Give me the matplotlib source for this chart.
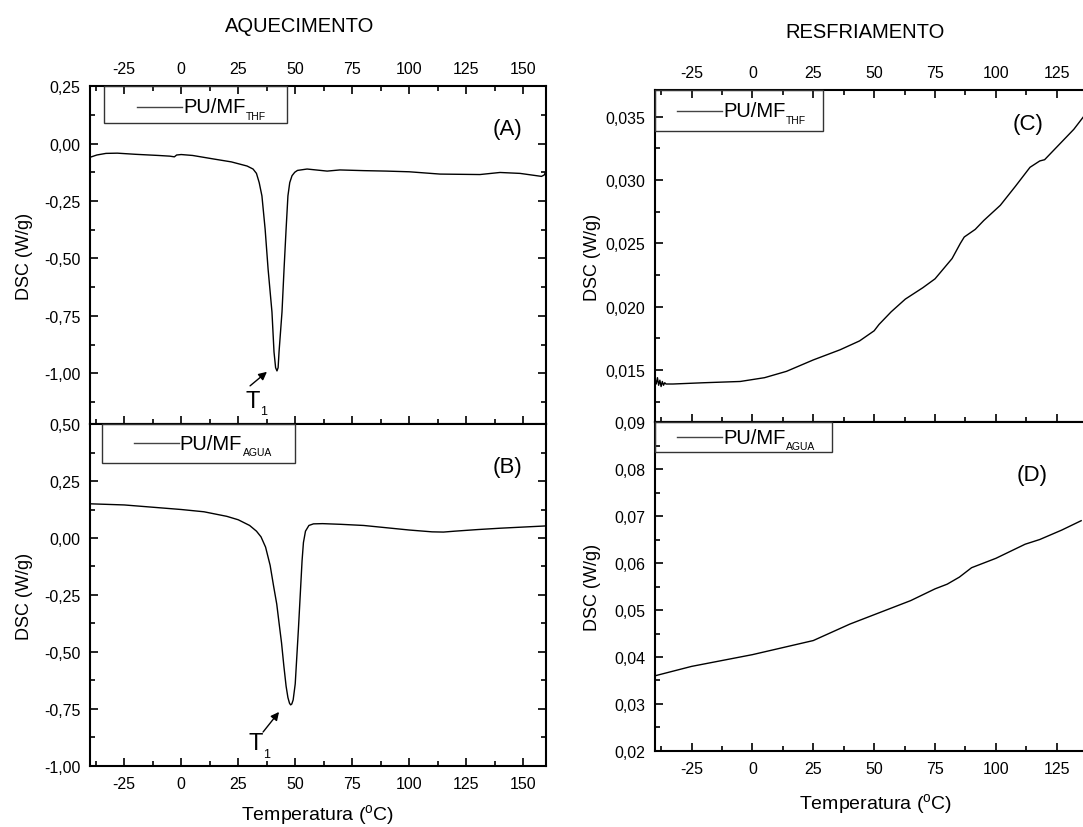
import numpy as np
import matplotlib
matplotlib.use("Agg")
import matplotlib.pyplot as plt
from matplotlib.ticker import MultipleLocator, FixedLocator, FuncFormatter
from matplotlib.patches import Rectangle
from matplotlib.lines import Line2D

plt.rcParams['font.family'] = ['Liberation Sans', 'DejaVu Sans']
plt.rcParams['mathtext.fontset'] = 'custom'
plt.rcParams['mathtext.rm'] = 'Liberation Sans'
plt.rcParams['mathtext.it'] = 'Liberation Sans:italic'
plt.rcParams['mathtext.bf'] = 'Liberation Sans:bold'
plt.rcParams['axes.unicode_minus'] = False

# --- heating, PU/MF (THF) ---
temp_a = [-40, -37, -33, -28, -20, -10, -5, -3, -2, 0, 5, 14, 22, 28.9, 31.5, 33,
          34.2, 35.4, 36.8, 38.1, 39.8, 40.7, 41.4, 42.0, 42.5, 42.9, 44.2, 45.1,
          46.0, 46.8, 47.6, 48.6, 49.8, 51, 55.2, 64, 69.6, 80, 90, 100, 113.5, 131,
          139.8, 148.6, 158, 159.2, 160]
dsc_a = [-0.06, -0.05, -0.043, -0.042, -0.047, -0.052, -0.055, -0.058, -0.05, -0.048,
         -0.052, -0.067, -0.08, -0.098, -0.111, -0.13, -0.17, -0.228, -0.372, -0.546,
         -0.733, -0.907, -0.975, -0.989, -0.975, -0.907, -0.733, -0.546, -0.372,
         -0.228, -0.17, -0.14, -0.125, -0.117, -0.111, -0.12, -0.115, -0.118, -0.12,
         -0.123, -0.133, -0.135, -0.126, -0.13, -0.143, -0.137, -0.12]

# --- heating, PU/MF (agua) ---
temp_b = [-40, -25, 0, 10, 20, 25, 30, 33, 35, 37, 39, 40.5, 41.9, 43, 44, 45, 46,
          46.8, 47.5, 48, 48.5, 49.1, 50, 50.7, 51.4, 52.2, 53, 53.6, 54.5, 56, 58,
          62, 70, 80, 90, 100, 110, 115, 120, 130, 140, 150, 160]
dsc_b = [0.15, 0.145, 0.125, 0.115, 0.095, 0.08, 0.055, 0.03, 0.005, -0.04, -0.12,
         -0.21, -0.29, -0.38, -0.46, -0.56, -0.65, -0.70, -0.725, -0.732, -0.728,
         -0.71, -0.64, -0.52, -0.40, -0.25, -0.10, -0.02, 0.03, 0.055, 0.062, 0.063,
         0.06, 0.055, 0.045, 0.035, 0.027, 0.026, 0.03, 0.037, 0.043, 0.048, 0.053]

# --- cooling, PU/MF (THF) ---
temp_c = [-40, -39.5, -39, -38.5, -38, -37.5, -37, -36.5, -36, -35.5, -35, -32.6,
          -20, -5, 5, 14, 25, 36, 44, 50, 52, 57, 62.8, 70, 75, 82, 85.4, 87,
          91.5, 95, 101.8, 108, 114, 118, 120, 125, 132, 136]
dsc_c = [0.0143, 0.0139, 0.0144, 0.0138, 0.0142, 0.0137, 0.0141, 0.0138, 0.0140,
         0.0139, 0.0139, 0.0139, 0.0140, 0.0141, 0.0144, 0.0149, 0.0158, 0.0166,
         0.0173, 0.0181, 0.0186, 0.0196, 0.0206, 0.0215, 0.0222, 0.0238, 0.0250,
         0.0255, 0.0261, 0.0268, 0.0280, 0.0295, 0.0310, 0.0315, 0.0316, 0.0326,
         0.0340, 0.0350]

# --- cooling, PU/MF (agua) ---
temp_d = [-40, -25, -10, 0, 10, 25, 40, 50, 65, 75, 80, 85, 90, 95, 100, 106, 112,
          118, 127, 135]
dsc_d = [0.036, 0.038, 0.0395, 0.0405, 0.0417, 0.0435, 0.047, 0.049, 0.052, 0.0545,
         0.0555, 0.057, 0.059, 0.060, 0.061, 0.0625, 0.064, 0.065, 0.067, 0.069]

x_ticks = [-25, 0, 25, 50, 75, 100, 125, 150]


def comma_fmt(decimals):
    return FuncFormatter(lambda v, pos: f"{v:.{decimals}f}".replace('.', ','))


def style_axis(ax, xticks, ymajor, yminor, ydec, top_labels, bottom_labels, top_ticks):
    ax.set_xlim(-40, 160)
    ax.xaxis.set_major_locator(FixedLocator(xticks))
    ax.xaxis.set_minor_locator(MultipleLocator(12.5))
    ax.yaxis.set_major_locator(MultipleLocator(ymajor))
    ax.yaxis.set_minor_locator(MultipleLocator(yminor))
    ax.yaxis.set_major_formatter(comma_fmt(ydec))
    ax.tick_params(which='both', direction='in', left=True, right=True,
                   top=top_ticks, bottom=True, labeltop=top_labels,
                   labelbottom=bottom_labels, labelsize=11.5, width=1.2, pad=7)
    ax.tick_params(which='major', length=6)
    ax.tick_params(which='minor', length=3.5)
    for sp in ax.spines.values():
        sp.set_linewidth(1.5)


def with_subscript(ax, x, y, main, sub, size, subsize, coords=None, **kw):
    t = ax.text(x, y, main, fontsize=size, va='center', ha=kw.get('ha', 'left'),
                transform=coords if coords is not None else ax.transData, zorder=6)
    ax.annotate(sub, xy=(1.0, 0.3), xycoords=t, xytext=(0.5, 0),
                textcoords='offset points', fontsize=subsize, va='top', ha='left',
                zorder=6)
    return t


def legend_box(ax, xspan, ybot, line_x0, line_x1, ytext, sub):
    ax.add_patch(Rectangle((xspan[0], ybot), xspan[1] - xspan[0], 1 - ybot,
                           transform=ax.transAxes, fill=False, lw=1.0,
                           edgecolor='#333333', clip_on=False, zorder=5))
    ax.add_line(Line2D([line_x0, line_x1], [ytext, ytext], transform=ax.transAxes,
                       color='#444444', lw=1.0, zorder=5))
    with_subscript(ax, line_x1 + 0.002, ytext, "PU/MF", sub, 14.5, 7.5,
                   coords=ax.transAxes)


fig = plt.figure(figsize=(10.83, 8.28), dpi=100)

ax_a = fig.add_axes([0.0831, 0.4867, 0.4211, 0.4082])
ax_b = fig.add_axes([0.0831, 0.0737, 0.4211, 0.4130])
ax_c = fig.add_axes([0.6048, 0.4891, 0.4497, 0.4010])
ax_d = fig.add_axes([0.6048, 0.0918, 0.4497, 0.3973])

lw = 1.0
ax_a.plot(temp_a, dsc_a, color='black', lw=lw)
ax_b.plot(temp_b, dsc_b, color='black', lw=lw)
ax_c.plot(temp_c, dsc_c, color='black', lw=lw)
ax_d.plot(temp_d, dsc_d, color='black', lw=lw)

ax_a.set_ylim(-1.22, 0.25)
ax_b.set_ylim(-1.0, 0.5)
ax_c.set_ylim(0.0109, 0.0371)
ax_d.set_ylim(0.02, 0.09)

style_axis(ax_a, x_ticks, 0.25, 0.125, 2, True, False, True)
style_axis(ax_b, x_ticks, 0.25, 0.125, 2, False, True, False)
style_axis(ax_c, x_ticks[:-1], 0.005, 0.0025, 3, True, False, True)
style_axis(ax_d, x_ticks[:-1], 0.01, 0.005, 2, False, True, False)

for ax in (ax_a, ax_b, ax_c, ax_d):
    ax.set_ylabel("DSC (W/g)", fontsize=13)
for ax in (ax_a, ax_b):
    ax.yaxis.set_label_coords(-0.125, 0.5)
for ax in (ax_c, ax_d):
    ax.yaxis.set_label_coords(-0.11, 0.5)

ax_b.set_xlabel(r"Temperatura ($^{\mathregular{o}}$C)", fontsize=14)
ax_b.xaxis.set_label_coords(0.5, -0.105)
ax_d.set_xlabel(r"Temperatura ($^{\mathregular{o}}$C)", fontsize=14)
ax_d.xaxis.set_label_coords(0.452, -0.122)

legend_box(ax_a, (0.031, 0.432), 0.89, 0.103, 0.202, 0.938, "THF")
legend_box(ax_b, (0.026, 0.45), 0.886, 0.096, 0.195, 0.944, "AGUA")
legend_box(ax_c, (0.0, 0.345), 0.876, 0.045, 0.138, 0.937, "THF")
legend_box(ax_d, (0.0, 0.363), 0.909, 0.045, 0.138, 0.954, "AGUA")

ax_a.text(0.915, 0.875, "(A)", transform=ax_a.transAxes, fontsize=16, ha='center', va='center')
ax_b.text(0.915, 0.875, "(B)", transform=ax_b.transAxes, fontsize=16, ha='center', va='center')
ax_c.text(0.765, 0.9, "(C)", transform=ax_c.transAxes, fontsize=16, ha='center', va='center')
ax_d.text(0.775, 0.84, "(D)", transform=ax_d.transAxes, fontsize=16, ha='center', va='center')

# T1 markers pointing at the melting peaks
ax_a.annotate("", xy=(37.6, -0.993), xytext=(30.2, -1.054),
              arrowprops=dict(arrowstyle='-|>', color='black', lw=1.0,
                              mutation_scale=12, shrinkA=0, shrinkB=0))
with_subscript(ax_a, 28.0, -1.12, "T", "1", 17, 9)
ax_b.annotate("", xy=(42.9, -0.763), xytext=(35.9, -0.851),
              arrowprops=dict(arrowstyle='-|>', color='black', lw=1.0,
                              mutation_scale=12, shrinkA=0, shrinkB=0))
with_subscript(ax_b, 29.4, -0.9, "T", "1", 17, 9)

fig.text(300 / 1083, 1 - 26 / 828, "AQUECIMENTO", fontsize=14.5, ha='center', va='center')
fig.text(865 / 1083, 1 - 33 / 828, "RESFRIAMENTO", fontsize=14.5, ha='center', va='center')

fig.savefig("out.png", dpi=100)
